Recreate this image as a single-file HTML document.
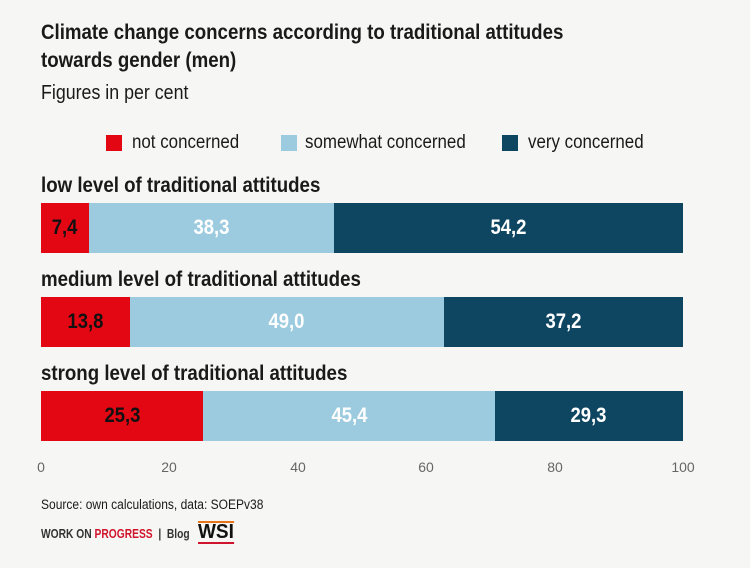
<!DOCTYPE html>
<html><head><meta charset="utf-8"><style>
body{margin:0;width:750px;height:568px;background:#f6f6f4;font-family:"Liberation Sans",sans-serif;color:#1a1a1a;position:relative;overflow:hidden}
.a{position:absolute;white-space:nowrap;transform:scaleX(0.89);transform-origin:0 0}
.t{font-weight:bold;font-size:21px;left:41px}
.cat{font-weight:bold;font-size:21px;left:41px}
.bar{position:absolute;left:41px;width:642px;height:50px;display:flex}
.bar div{height:100%;display:flex;align-items:center;justify-content:center;font-weight:bold;font-size:21px}
.bar span{display:inline-block;transform:scaleX(0.88)}
.r{background:#e30613;color:#111}.l{background:#9ccbdf;color:#fff}.d{background:#0e4662;color:#fff}
.sq{position:absolute;width:16px;height:16px;top:135px}
.lg{font-size:19px;top:132px}
.tk{position:absolute;font-size:14px;color:#666;top:459px;transform:translateX(-50%)}
</style></head><body>
<div class="a t" style="top:21px">Climate change concerns according to traditional attitudes</div>
<div class="a t" style="top:49px">towards gender (men)</div>
<div class="a" style="left:41px;top:82px;font-size:20px">Figures in per cent</div>
<div class="sq" style="left:106px;background:#e30613"></div><div class="a lg" style="left:132px">not concerned</div>
<div class="sq" style="left:281px;background:#9ccbdf"></div><div class="a lg" style="left:305px">somewhat concerned</div>
<div class="sq" style="left:502px;background:#0e4662"></div><div class="a lg" style="left:528px">very concerned</div>
<div class="a cat" style="top:174px">low level of traditional attitudes</div>
<div class="bar" style="top:203px"><div class="r" style="width:7.4%"><span>7,4</span></div><div class="l" style="width:38.3%"><span>38,3</span></div><div class="d" style="width:54.3%"><span>54,2</span></div></div>
<div class="a cat" style="top:268px">medium level of traditional attitudes</div>
<div class="bar" style="top:297px"><div class="r" style="width:13.8%"><span>13,8</span></div><div class="l" style="width:49%"><span>49,0</span></div><div class="d" style="width:37.2%"><span>37,2</span></div></div>
<div class="a cat" style="top:362px">strong level of traditional attitudes</div>
<div class="bar" style="top:391px"><div class="r" style="width:25.3%"><span>25,3</span></div><div class="l" style="width:45.4%"><span>45,4</span></div><div class="d" style="width:29.3%"><span>29,3</span></div></div>
<div class="tk" style="left:41px">0</div><div class="tk" style="left:169px">20</div><div class="tk" style="left:298px">40</div><div class="tk" style="left:426px">60</div><div class="tk" style="left:555px">80</div><div class="tk" style="left:683px">100</div>
<div class="a" style="left:41px;top:497px;font-size:13.5px">Source: own calculations, data: SOEPv38</div>
<div class="a" style="left:41px;top:527px;font-size:12.5px;font-weight:bold;color:#333;transform:scaleX(0.82)">WORK ON <span style="color:#d0142c">PROGRESS</span> &nbsp;|&nbsp; Blog</div>
<div class="a" style="left:198px;top:521px;font-size:20px;font-weight:bold;color:#111;border-top:2px solid #e8751a;border-bottom:2px solid #d0142c;line-height:19px;transform:scaleX(0.95)">WSI</div>
</body></html>
